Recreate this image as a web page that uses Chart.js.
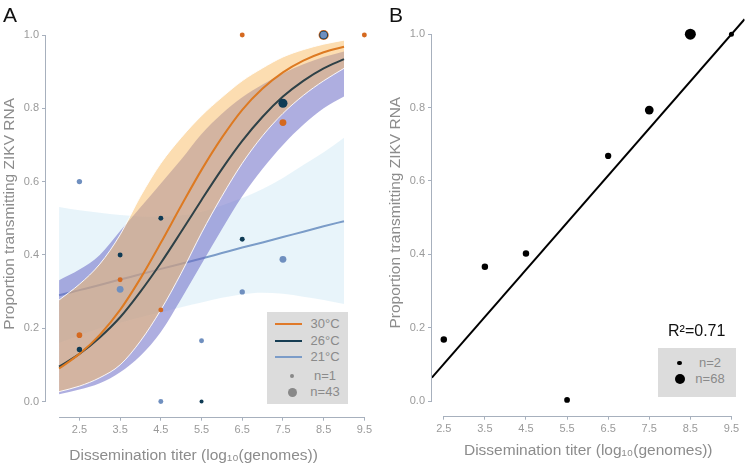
<!DOCTYPE html>
<html>
<head>
<meta charset="utf-8">
<title>ZIKV transmission vs dissemination titer</title>
<script src="https://cdn.jsdelivr.net/npm/chart.js@4.4.1/dist/chart.umd.min.js"></script>
<style>
  html, body { margin: 0; padding: 0; background: #fff; }
  body { font-family: 'Liberation Sans', Arial, sans-serif; }
  #page { position: relative; width: 750px; height: 470px; overflow: hidden; }
  #page canvas { position: absolute; top: 0; }
  .panel-tag { position: absolute; top: 4px; font-size: 21px; line-height: 21px; color: #111; }
  .legend { position: absolute; background: #dcdcdc; }
  .swatch { position: absolute; height: 2px; }
  .dot { position: absolute; border-radius: 50%; }
  .lbl { position: absolute; font-size: 13px; line-height: 16px; color: #8a8a8a; text-align: center; white-space: nowrap; }
  #r2 { position: absolute; left: 668px; top: 323px; font-size: 16px; line-height: 16px; color: #111; }
</style>
</head>
<body>
<div id="page">
  <canvas id="chartA" width="375" height="470" style="left:0"></canvas>
  <canvas id="chartB" width="375" height="470" style="left:375px"></canvas>

  <div class="panel-tag" style="left:3px">A</div>
  <div class="panel-tag" style="left:389px">B</div>

  <!-- legend A -->
  <div class="legend" style="left:267px; top:312px; width:81px; height:92px"></div>
  <div class="swatch" style="left:275px; top:323px; width:27px; background:#e07a2a"></div>
  <div class="swatch" style="left:275px; top:339.5px; width:27px; background:#163d53"></div>
  <div class="swatch" style="left:275px; top:355.5px; width:27px; background:#7b9cc8"></div>
  <div class="dot" style="left:290.4px; top:373.8px; width:3.8px; height:3.8px; background:#888"></div>
  <div class="dot" style="left:287.6px; top:387.6px; width:9.4px; height:9.4px; background:#888"></div>
  <div class="lbl" style="left:304px; top:316px; width:42px">30°C</div>
  <div class="lbl" style="left:304px; top:332.5px; width:42px">26°C</div>
  <div class="lbl" style="left:304px; top:348.5px; width:42px">21°C</div>
  <div class="lbl" style="left:304px; top:367.5px; width:42px">n=1</div>
  <div class="lbl" style="left:304px; top:384px; width:42px">n=43</div>

  <!-- legend B -->
  <div id="r2">R²=0.71</div>
  <div class="legend" style="left:658px; top:348px; width:78px; height:49px"></div>
  <div class="dot" style="left:677.4px; top:360.7px; width:4.6px; height:4.6px; background:#000"></div>
  <div class="dot" style="left:674.7px; top:374.3px; width:10px; height:10px; background:#000"></div>
  <div class="lbl" style="left:690px; top:355px; width:40px">n=2</div>
  <div class="lbl" style="left:690px; top:371.3px; width:40px">n=68</div>
</div>

<script>
// ---------- Panel A: fitted curves ----------
const fitX  = [2, 2.5, 3, 3.5, 4, 4.5, 5, 5.5, 6, 6.5, 7, 7.5, 8, 8.5, 9];
const fit30 = [0.09, 0.13, 0.182, 0.25, 0.336, 0.433, 0.534, 0.632, 0.72, 0.796, 0.854, 0.898, 0.93, 0.953, 0.968];
const fit26 = [0.095, 0.13, 0.175, 0.23, 0.30, 0.378, 0.463, 0.55, 0.634, 0.711, 0.777, 0.832, 0.875, 0.909, 0.934];
const fit21 = [0.29, 0.304, 0.318, 0.333, 0.347, 0.362, 0.376, 0.39, 0.405, 0.42, 0.434, 0.449, 0.463, 0.478, 0.492];

// confidence bands
const ci30Upper = [0.277, 0.32, 0.375, 0.455, 0.56, 0.65, 0.72, 0.78, 0.83, 0.875, 0.91, 0.94, 0.96, 0.975, 0.986];
const ci30Lower = [0.027, 0.042, 0.065, 0.10, 0.165, 0.25, 0.35, 0.46, 0.56, 0.65, 0.725, 0.786, 0.835, 0.875, 0.909];
const ci26Upper = [0.331, 0.36, 0.40, 0.465, 0.53, 0.595, 0.66, 0.73, 0.785, 0.83, 0.865, 0.895, 0.92, 0.94, 0.955];
const ci26Lower = [0.02, 0.033, 0.05, 0.08, 0.125, 0.19, 0.28, 0.375, 0.47, 0.56, 0.635, 0.70, 0.755, 0.80, 0.832];
const ci21Upper = [0.531, 0.522, 0.515, 0.509, 0.505, 0.504, 0.508, 0.518, 0.535, 0.555, 0.58, 0.61, 0.645, 0.68, 0.72];
const ci21Lower = [0.16, 0.18, 0.20, 0.215, 0.23, 0.243, 0.257, 0.27, 0.283, 0.293, 0.297, 0.294, 0.286, 0.277, 0.266];

// observed proportions (and sample sizes) per temperature
const x30 = [2.5, 3.5, 4.5, 6.5, 7.5, 8.5, 9.5];
const y30 = [0.181, 0.332, 0.25, 1.0, 0.761, 1.0, 1.0];
const n30 = [4, 2, 2, 2, 10, 43, 2];
const x26 = [2.5, 3.5, 4.5, 5.5, 6.5, 7.5, 8.5];
const y26 = [0.142, 0.40, 0.50, 0.0, 0.443, 0.814, 1.0];
const n26 = [3, 2, 2, 1, 2, 29, 25];
const x21 = [2.5, 3.5, 4.5, 5.5, 6.5, 7.5, 8.5];
const y21 = [0.60, 0.306, 0.0, 0.166, 0.299, 0.388, 1.0];
const n21 = [3, 10, 2, 2, 3, 10, 10];

// ---------- Panel B: pooled data + regression ----------
const xB = [2.5, 3.5, 4.5, 5.5, 6.5, 7.5, 8.5, 9.5];
const yB = [0.168, 0.366, 0.402, 0.003, 0.668, 0.793, 1.0, 1.0];
const nB = [6, 6, 6, 3, 5, 28, 68, 2];
const regX = [2.21, 9.82];
const regY = [0.064, 1.041];

// tick labels
const xTicks = [2.5, 3.5, 4.5, 5.5, 6.5, 7.5, 8.5, 9.5];
const yTicks = [0, 0.2, 0.4, 0.6, 0.8, 1.0];

// ---------- helpers ----------
const pts = (xs, ys) => xs.map((x, i) => ({ x, y: ys[i] }));
const sizeA = n => 2 + 3.1 * Math.sqrt((n - 1) / 42);
const sizeB = n => 2.5 + 3 * Math.sqrt((n - 2) / 66);

const FONT = "'Liberation Sans', Arial, sans-serif";
const AXIS_COLOR = '#a7b0bd';

// despined axis lines, trimmed to a value range
const trimmedAxes = {
    id: 'trimmedAxes',
    beforeDatasetsDraw(chart, args, opts) {
        const { ctx, chartArea, scales: { x, y } } = chart;
        const xl = Math.round(chartArea.left) - 0.5;
        const yb = Math.round(chartArea.bottom) + 0.5;
        ctx.save();
        ctx.strokeStyle = AXIS_COLOR;
        ctx.lineWidth = 1;
        ctx.beginPath();
        ctx.moveTo(xl, y.getPixelForValue(opts.yFrom));
        ctx.lineTo(xl, y.getPixelForValue(opts.yTo));
        ctx.moveTo(x.getPixelForValue(opts.xFrom), yb);
        ctx.lineTo(x.getPixelForValue(opts.xTo), yb);
        ctx.stroke();
        ctx.restore();
    }
};

function scales(o) {
    return {
        x: {
            type: 'linear', min: o.xMin, max: o.xMax,
            afterBuildTicks: s => { s.ticks = xTicks.map(v => ({ value: v })); },
            afterFit: s => { s.height = o.xHeight; },
            border: { display: false },
            grid: { drawOnChartArea: false, drawTicks: true, tickLength: 4, color: AXIS_COLOR },
            ticks: { color: '#9a9a9a', font: { family: FONT, size: 11 }, padding: 3, maxRotation: 0, autoSkip: false,
                     callback: v => v.toFixed(1) },
            // trailing en spaces nudge the centred title left where needed
            title: { display: true, text: 'Dissemination titer (log₁₀(genomes))' + o.xTitleTail, color: '#8c8c8c',
                     font: { family: FONT, size: 15.5 }, padding: { top: 0, bottom: o.xTitlePad } }
        },
        y: {
            type: 'linear', min: o.yMin, max: o.yMax,
            afterBuildTicks: s => { s.ticks = yTicks.map(v => ({ value: v })); },
            afterFit: s => { s.width = 46; },
            border: { display: false },
            grid: { drawOnChartArea: false, drawTicks: true, tickLength: 4, color: AXIS_COLOR },
            ticks: { color: '#9a9a9a', font: { family: FONT, size: 11 }, padding: 3, callback: v => v.toFixed(1) },
            title: { display: true, text: 'Proportion transmitting ZIKV RNA', color: '#8c8c8c',
                     font: { family: FONT, size: 15.5 }, padding: 0 }
        }
    };
}

const curve = (ys, color, order, extra) => Object.assign({
    type: 'line', data: pts(fitX, ys), borderColor: color, borderWidth: 2,
    pointRadius: 0, cubicInterpolationMode: 'monotone', fill: false, order
}, extra || {});

const dots = (xs, ys, ns, color, order, size) => ({
    type: 'scatter', data: pts(xs, ys), backgroundColor: color, borderWidth: 0,
    pointRadius: ns.map(size), pointHoverRadius: ns.map(size), clip: false, order
});

const baseOptions = {
    responsive: false,
    animation: false,
    events: [],
    plugins: {
        legend: { display: false },
        tooltip: { enabled: false },
        filler: { drawTime: 'beforeDatasetDraw' }
    }
};

// ---------- Panel A ----------
new Chart(document.getElementById('chartA'), {
    type: 'line',
    data: {
        datasets: [
            // 0,1: 21°C band
            curve(ci21Lower, 'rgba(0,0,0,0)', 20, { borderWidth: 0 }),
            curve(ci21Upper, 'rgba(0,0,0,0)', 20, { borderWidth: 0, fill: { target: 0 }, backgroundColor: 'rgba(200,228,242,0.42)' }),
            // 2: 21°C fit
            curve(fit21, '#7b9cc8', 18),
            // 3,4: 26°C band
            curve(ci26Lower, 'rgba(0,0,0,0)', 16, { borderWidth: 0 }),
            curve(ci26Upper, 'rgba(0,0,0,0)', 16, { borderWidth: 0, fill: { target: 3 }, backgroundColor: 'rgba(108,108,198,0.55)' }),
            // 5,6: 30°C band
            curve(ci30Lower, 'rgba(255,255,255,0.9)', 14, { borderWidth: 1 }),
            curve(ci30Upper, 'rgba(255,255,255,0.9)', 14, { borderWidth: 1, fill: { target: 5 }, backgroundColor: 'rgba(250,188,100,0.5)' }),
            // fits
            curve(fit26, '#2e4147', 12),
            curve(fit30, '#dd7a22', 10),
            // observations
            dots(x30, y30, n30, '#d5691f', 6, sizeA),
            dots(x26, y26, n26, '#0f3b55', 4, sizeA),
            dots(x21, y21, n21, '#6f8fbf', 2, sizeA)
        ]
    },
    options: Object.assign({}, baseOptions, {
        layout: { padding: { top: 11, right: 5, left: 0, bottom: 0 } },
        scales: scales({ xMin: 1.679, xMax: 9.5, yMin: -0.0414, yMax: 1.0655, xHeight: 53.3, xTitlePad: 5,
                         xTitleTail: '\u2002\u2002\u2002' }),
        plugins: Object.assign({}, baseOptions.plugins, {
            trimmedAxes: { xFrom: 2.0, xTo: 9.5, yFrom: 0, yTo: 1 }
        })
    }),
    plugins: [trimmedAxes]
});

// ---------- Panel B ----------
new Chart(document.getElementById('chartB'), {
    type: 'line',
    data: {
        datasets: [
            { type: 'line', data: pts(regX, regY), borderColor: '#000', borderWidth: 2, pointRadius: 0, fill: false, order: 2 },
            dots(xB, yB, nB, '#000', 1, sizeB)
        ]
    },
    options: Object.assign({}, baseOptions, {
        layout: { padding: { top: 5, right: 0, left: 11, bottom: 0 } },
        scales: scales({ xMin: 2.213, xMax: 9.818, yMin: -0.04, yMax: 1.067, xHeight: 54.3, xTitlePad: 10,
                         xTitleTail: '' }),
        plugins: Object.assign({}, baseOptions.plugins, {
            trimmedAxes: { xFrom: 2.5, xTo: 9.5, yFrom: 0, yTo: 1 }
        })
    }),
    plugins: [trimmedAxes]
});
</script>
</body>
</html>
